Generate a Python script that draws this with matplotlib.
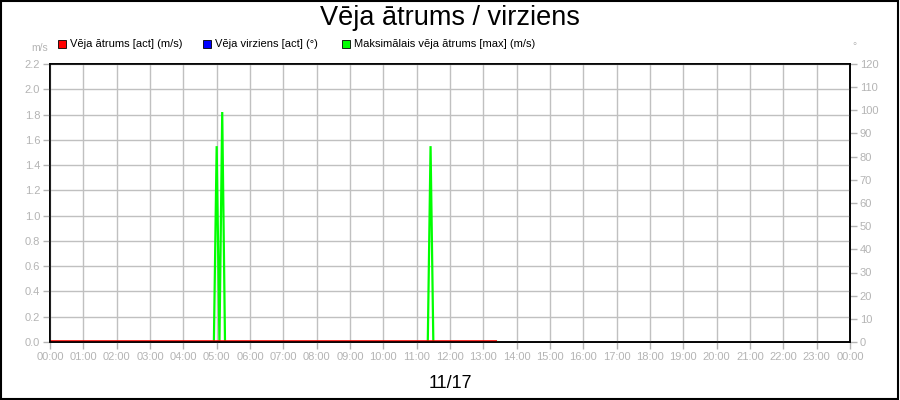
import numpy as np
import matplotlib
matplotlib.use("Agg")
import matplotlib.pyplot as plt
from matplotlib.patches import Rectangle

plt.rcParams['font.family'] = ['Liberation Sans', 'DejaVu Sans']

#%%
# data (hours since midnight, 5 min samples)
title = "Vēja ātrums / virziens"
date_label = "11/17"
legend_labels = ["Vēja ātrums [act] (m/s)", "Vēja virziens [act] (°)",
                 "Maksimālais vēja ātrums [max] (m/s)"]
legend_colors = ["#ff0000", "#0000ff", "#00ff00"]

speed_t = [0.0, 13 + 25/60]
speed_v = [0.0, 0.0]
dir_t = [0.0, 13 + 25/60]
dir_v = [0.0, 0.0]
gust_t = [0.0, 4 + 55/60, 5.0, 5 + 5/60, 5 + 10/60, 5 + 15/60,
          11 + 20/60, 11 + 25/60, 11 + 30/60, 13 + 25/60]
gust_v = [0.0, 0.0, 1.55, 0.0, 1.82, 0.0, 0.0, 1.55, 0.0, 0.0]

hour_labels = ["%02d:00" % (h % 24) for h in range(25)]
left_ticks = np.arange(0, 2.21, 0.2)
right_ticks = np.arange(0, 121, 10)

#%%
grey = "#b4b4b4"
fig = plt.figure(figsize=(9, 4), dpi=100)
ax = fig.add_axes([50/900, 1 - 342/400, 800/900, 278/400])
ax2 = ax.twinx()
# keep the speed axis on top so the direction line sits underneath
ax.set_zorder(ax2.get_zorder() + 1)
ax.patch.set_visible(False)

ax2.plot(dir_t, dir_v, color=legend_colors[1], lw=1, zorder=2)
ax.plot(gust_t, gust_v, color=legend_colors[2], lw=1.6, zorder=3,
        solid_joinstyle="miter")
ax.plot(speed_t, speed_v, color=legend_colors[0], lw=2.6, zorder=4,
        solid_capstyle="butt")

ax.set_xlim(0, 24)
ax.set_ylim(0, 2.2)
ax2.set_ylim(0, 120)
ax.set_xticks(range(25))
ax.set_xticklabels(hour_labels)
ax.set_yticks(left_ticks)
ax.set_yticklabels(["%.1f" % v for v in left_ticks])
ax2.set_yticks(right_ticks)
ax2.set_yticklabels([str(int(v)) for v in right_ticks])

ax.grid(True, color="#c0c0c0", lw=1)
ax.set_axisbelow(True)
for a in (ax, ax2):
    a.tick_params(colors=grey, labelsize=8, length=5, width=1, pad=2)
    for s in a.spines.values():
        s.set_color("black")
        s.set_linewidth(1.2)
        s.set_zorder(10)

fig.text(0.5, 0.955, title, ha="center", va="center", fontsize=19.5)
fig.text(0.5, 0.042, date_label, ha="center", va="center", fontsize=13)
fig.text(48/900, 1 - 48/400, "m/s", ha="right", va="center", fontsize=7.5, color=grey)
fig.text(854/900, 1 - 46/400, "°", ha="center", va="center", fontsize=7.5, color=grey)

# legend boxes
leg_x = [58, 203, 342]
for x, lab, c in zip(leg_x, legend_labels, legend_colors):
    fig.patches.append(Rectangle((x/900, 1 - 48/400), 8/900, 8/400, facecolor=c,
                                 edgecolor="black", lw=0.6, transform=fig.transFigure))
    fig.text((x + 12)/900, 1 - 44/400, lab, ha="left", va="center", fontsize=8)

# frame
fig.patches.append(Rectangle((0.001, 0.002), 0.997, 0.995, fill=False, edgecolor="black",
                             lw=1.5, transform=fig.transFigure))

fig.savefig("out.png", dpi=100)
